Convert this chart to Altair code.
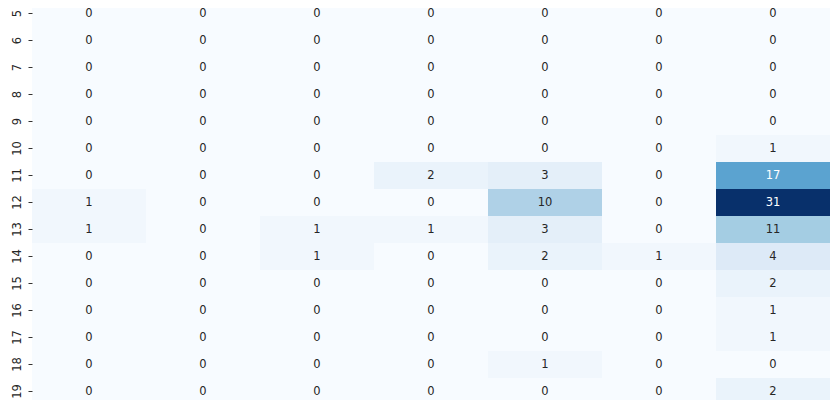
import pandas as pd
import altair as alt

# Rows shown in the heatmap (y) and the seven columns (x)
rows = [5, 6, 7, 8, 9, 10, 11, 12, 13, 14, 15, 16, 17, 18, 19]
cols = ["c1", "c2", "c3", "c4", "c5", "c6", "c7"]

# Counts per row, one list per column
c1 = [0, 0, 0, 0, 0, 0, 0, 1, 1, 0, 0, 0, 0, 0, 0]
c2 = [0, 0, 0, 0, 0, 0, 0, 0, 0, 0, 0, 0, 0, 0, 0]
c3 = [0, 0, 0, 0, 0, 0, 0, 0, 1, 1, 0, 0, 0, 0, 0]
c4 = [0, 0, 0, 0, 0, 0, 2, 0, 1, 0, 0, 0, 0, 0, 0]
c5 = [0, 0, 0, 0, 0, 0, 3, 10, 3, 2, 0, 0, 0, 1, 0]
c6 = [0, 0, 0, 0, 0, 0, 0, 0, 0, 1, 0, 0, 0, 0, 0]
c7 = [0, 0, 0, 0, 0, 1, 17, 31, 11, 4, 2, 1, 1, 0, 2]

records = []
for name, values in zip(cols, [c1, c2, c3, c4, c5, c6, c7]):
    for r, v in zip(rows, values):
        records.append({"row": r, "col": name, "count": v})
df = pd.DataFrame(records)

# matplotlib "Blues" stops
blues = ["#f7fbff", "#deebf7", "#c6dbef", "#9ecae1", "#6baed6",
         "#4292c6", "#2171b5", "#08519c", "#08306b"]
vmax = 31
stops = [vmax * i / (len(blues) - 1) for i in range(len(blues))]

base = alt.Chart(df).encode(
    x=alt.X("col:N", sort=cols, axis=None,
            scale=alt.Scale(paddingInner=0, paddingOuter=0)),
    y=alt.Y("row:O", sort=rows, title=None,
            scale=alt.Scale(paddingInner=0, paddingOuter=0),
            axis=alt.Axis(labelAngle=270, labelAlign="center", labelBaseline="bottom",
                          labelFontSize=11.5, labelFont="DejaVu Sans", labelColor="#262626",
                          tickSize=4, tickColor="#333333", tickWidth=1,
                          labelPadding=6, domain=False)),
)

heat = base.mark_rect().encode(
    color=alt.Color("count:Q", legend=None,
                    scale=alt.Scale(domain=stops, range=blues, interpolate="rgb")),
)

labels = base.mark_text(font="DejaVu Sans", fontSize=11.5).encode(
    text="count:Q",
    color=alt.condition(alt.datum.count >= 15, alt.value("#ffffff"), alt.value("#262626")),
)

chart = (heat + labels).properties(
    width=798,
    height=405,
    autosize=alt.AutoSizeParams(type="none"),
    padding={"left": 24, "top": -8, "right": 0, "bottom": 0},
).configure_view(stroke=None)

chart.save("out.html", embed_options={"renderer": "svg", "actions": False})
